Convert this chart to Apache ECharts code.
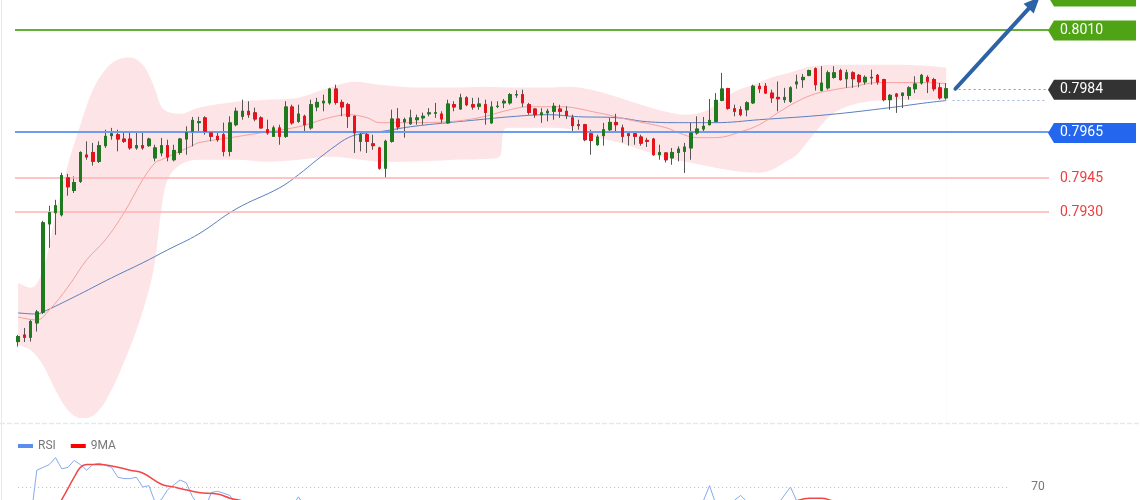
<!DOCTYPE html>
<html><head><meta charset="utf-8">
<script src="https://cdn.jsdelivr.net/npm/echarts@6/dist/echarts.min.js"></script>
<style>html,body{margin:0;padding:0;background:#fff}#c{width:1140px;height:500px}</style>
</head><body><div id="c"></div><script>
// ---- data ----
const slots = Array.from({length: 166}, (_, i) => String(i));
const opens = [0.78729,0.78758,0.78748,0.78811,0.78858,0.79246,0.79295,0.79286,0.79449,0.79393,
0.79433,0.79549,0.79560,0.79521,0.79590,0.79634,0.79638,0.79619,0.79619,0.79580,
0.79590,0.79590,0.79536,0.79558,0.79590,0.79528,0.79560,0.79619,0.79653,0.79691,
0.79712,0.79646,0.79631,0.79638,0.79565,0.79682,0.79719,0.79741,0.79734,0.79712,
0.79660,0.79631,0.79668,0.79631,0.79760,0.79697,0.79719,0.79668,0.79760,0.79778,
0.79778,0.79839,0.79780,0.79770,0.79719,0.79609,0.79638,0.79598,0.79580,0.79491,
0.79609,0.79707,0.79695,0.79686,0.79704,0.79712,0.79730,0.79733,0.79729,0.79690,
0.79770,0.79751,0.79800,0.79770,0.79763,0.79770,0.79690,0.79762,0.79778,0.79778,
0.79813,0.79814,0.79770,0.79751,0.79726,0.79734,0.79741,0.79751,0.79741,0.79712,
0.79682,0.79682,0.79642,0.79594,0.79634,0.79660,0.79692,0.79668,0.79642,0.79642,
0.79628,0.79613,0.79619,0.79550,0.79558,0.79536,0.79560,0.79565,0.79580,0.79646,
0.79663,0.79682,0.79697,0.79789,0.79841,0.79752,0.79748,0.79748,0.79778,0.79851,
0.79851,0.79821,0.79802,0.79792,0.79785,0.79861,0.79880,0.79899,0.79928,0.79832,
0.79844,0.79890,0.79920,0.79884,0.79910,0.79899,0.79870,0.79888,0.79899,0.79880,
0.79792,0.79817,0.79811,0.79811,0.79840,0.79865,0.79890,0.79880,0.79844,0.79800];
const closes = [0.78751,0.78748,0.78817,0.78859,0.79251,0.79296,0.79326,0.79459,0.79409,0.79428,
0.79560,0.79540,0.79521,0.79590,0.79631,0.79642,0.79619,0.79609,0.79580,0.79590,
0.79580,0.79619,0.79580,0.79590,0.79540,0.79569,0.79619,0.79648,0.79701,0.79695,
0.79653,0.79631,0.79616,0.79565,0.79690,0.79741,0.79741,0.79726,0.79707,0.79668,
0.79646,0.79668,0.79631,0.79760,0.79690,0.79729,0.79682,0.79770,0.79780,0.79785,
0.79839,0.79780,0.79760,0.79719,0.79646,0.79638,0.79609,0.79590,0.79491,0.79609,
0.79707,0.79672,0.79704,0.79712,0.79712,0.79719,0.79734,0.79734,0.79707,0.79773,
0.79760,0.79800,0.79770,0.79760,0.79773,0.79736,0.79760,0.79763,0.79785,0.79814,
0.79814,0.79778,0.79736,0.79726,0.79734,0.79741,0.79763,0.79741,0.79722,0.79678,
0.79678,0.79616,0.79613,0.79628,0.79660,0.79692,0.79682,0.79631,0.79634,0.79631,
0.79601,0.79609,0.79550,0.79560,0.79528,0.79560,0.79575,0.79584,0.79646,0.79663,
0.79675,0.79701,0.79789,0.79839,0.79754,0.79741,0.79726,0.79778,0.79851,0.79840,
0.79821,0.79800,0.79796,0.79802,0.79844,0.79870,0.79890,0.79920,0.79858,0.79865,
0.79910,0.79910,0.79880,0.79910,0.79884,0.79870,0.79890,0.79890,0.79870,0.79792,
0.79811,0.79807,0.79821,0.79844,0.79861,0.79899,0.79873,0.79840,0.79800,0.79840];
const lows = [0.78707,0.78727,0.78729,0.78773,0.78850,0.79141,0.79198,0.79279,0.79370,0.79382,
0.79426,0.79528,0.79502,0.79514,0.79580,0.79616,0.79565,0.79602,0.79572,0.79572,
0.79572,0.79585,0.79521,0.79543,0.79521,0.79521,0.79550,0.79550,0.79587,0.79651,
0.79638,0.79609,0.79607,0.79543,0.79543,0.79675,0.79704,0.79712,0.79697,0.79664,
0.79638,0.79629,0.79594,0.79624,0.79682,0.79690,0.79653,0.79660,0.79741,0.79741,
0.79770,0.79770,0.79719,0.79668,0.79558,0.79565,0.79558,0.79572,0.79484,0.79449,
0.79603,0.79660,0.79625,0.79682,0.79682,0.79682,0.79719,0.79712,0.79690,0.79686,
0.79741,0.79748,0.79763,0.79748,0.79748,0.79682,0.79686,0.79755,0.79755,0.79770,
0.79800,0.79760,0.79726,0.79712,0.79690,0.79697,0.79704,0.79712,0.79707,0.79653,
0.79660,0.79609,0.79550,0.79590,0.79590,0.79653,0.79653,0.79604,0.79590,0.79594,
0.79590,0.79584,0.79546,0.79528,0.79516,0.79506,0.79521,0.79470,0.79528,0.79638,
0.79653,0.79680,0.79692,0.79785,0.79748,0.79719,0.79719,0.79719,0.79773,0.79821,
0.79817,0.79778,0.79741,0.79778,0.79778,0.79840,0.79844,0.79895,0.79832,0.79829,
0.79836,0.79884,0.79876,0.79844,0.79844,0.79846,0.79858,0.79858,0.79858,0.79785,
0.79748,0.79734,0.79755,0.79792,0.79821,0.79858,0.79821,0.79829,0.79792,0.79792];
const highs = [0.78758,0.78789,0.78824,0.78868,0.79260,0.79326,0.79352,0.79471,0.79466,0.79455,
0.79565,0.79609,0.79602,0.79609,0.79660,0.79668,0.79660,0.79653,0.79646,0.79653,
0.79653,0.79625,0.79594,0.79624,0.79616,0.79594,0.79624,0.79675,0.79716,0.79717,
0.79719,0.79653,0.79647,0.79691,0.79719,0.79757,0.79792,0.79785,0.79757,0.79719,
0.79704,0.79678,0.79682,0.79785,0.79770,0.79770,0.79726,0.79792,0.79800,0.79814,
0.79844,0.79858,0.79792,0.79778,0.79722,0.79653,0.79646,0.79638,0.79585,0.79616,
0.79748,0.79755,0.79713,0.79748,0.79726,0.79735,0.79755,0.79778,0.79741,0.79792,
0.79785,0.79818,0.79807,0.79800,0.79801,0.79792,0.79785,0.79785,0.79795,0.79821,
0.79833,0.79836,0.79778,0.79755,0.79755,0.79752,0.79778,0.79770,0.79763,0.79726,
0.79704,0.79686,0.79660,0.79638,0.79690,0.79712,0.79730,0.79682,0.79653,0.79653,
0.79638,0.79624,0.79624,0.79594,0.79560,0.79580,0.79587,0.79602,0.79690,0.79719,
0.79716,0.79795,0.79821,0.79910,0.79844,0.79770,0.79763,0.79785,0.79858,0.79865,
0.79865,0.79836,0.79872,0.79844,0.79851,0.79902,0.79905,0.79924,0.79934,0.79939,
0.79920,0.79939,0.79928,0.79924,0.79917,0.79905,0.79899,0.79924,0.79905,0.79884,
0.79817,0.79821,0.79822,0.79851,0.79895,0.79905,0.79899,0.79888,0.79865,0.79865];

// Bollinger band edges and moving averages, read as [candle index, price]
const upperBand = [[0,0.78987],[2,0.78965],[4,0.79044],[6,0.79286],[8,0.79506],[10,0.79682],[12,0.79836],[14,0.79924],[16,0.79968],[18,0.79977],[20,0.79946],[21,0.79902],[22,0.79836],[23,0.79761],[24,0.79739],[26,0.79730],[29,0.79757],[35,0.79783],[40,0.79792],[45,0.79801],[50,0.79845],[54,0.79871],[58,0.79858],[65,0.79845],[70,0.79845],[75,0.79849],[80,0.79845],[85,0.79845],[88,0.79849],[92,0.79836],[96,0.79805],[100,0.79770],[104,0.79739],[107,0.79726],[110,0.79739],[112,0.79770],[115,0.79827],[118,0.79858],[121,0.79889],[124,0.79911],[127,0.79937],[131,0.79946],[136,0.79946],[141,0.79946],[145,0.79942],[149,0.79933]];
const lowerBand = [[0,0.78714],[2,0.78692],[4,0.78626],[6,0.78516],[8,0.78428],[10,0.78393],[11,0.78393],[13,0.78428],[15,0.78516],[17,0.78639],[19,0.78780],[21,0.78956],[22,0.79088],[23,0.79308],[24,0.79440],[26,0.79506],[29,0.79528],[35,0.79528],[40,0.79519],[45,0.79528],[50,0.79541],[55,0.79528],[58,0.79519],[62,0.79519],[70,0.79528],[77,0.79537],[78,0.79660],[79,0.79669],[85,0.79669],[89,0.79660],[92,0.79629],[96,0.79607],[100,0.79572],[104,0.79537],[108,0.79515],[112,0.79493],[116,0.79475],[119,0.79471],[121,0.79484],[123,0.79515],[125,0.79550],[127,0.79616],[129,0.79682],[131,0.79735],[134,0.79770],[138,0.79788],[143,0.79792],[149,0.79792]];
const redMA = [[0,0.78837],[3,0.78824],[5,0.78868],[8,0.78969],[11,0.79088],[14,0.79176],[17,0.79295],[20,0.79440],[22,0.79515],[23,0.79528],[24,0.79541],[28,0.79590],[29,0.79603],[35,0.79629],[40,0.79651],[45,0.79673],[50,0.79713],[53,0.79726],[56,0.79713],[58,0.79691],[63,0.79691],[69,0.79695],[74,0.79713],[79,0.79748],[82,0.79761],[87,0.79761],[93,0.79735],[98,0.79704],[104,0.79669],[106,0.79647],[109,0.79625],[112,0.79625],[116,0.79651],[119,0.79682],[122,0.79735],[125,0.79783],[128,0.79818],[131,0.79836],[134,0.79849],[138,0.79867],[142,0.79867],[146,0.79867],[149,0.79862]];
const blueMA = [[0,0.78855],[3,0.78850],[4,0.78859],[9,0.78925],[15,0.79009],[20,0.79075],[24,0.79132],[29,0.79202],[35,0.79312],[42,0.79405],[45,0.79462],[48,0.79528],[51,0.79590],[53,0.79625],[55,0.79642],[58,0.79651],[63,0.79673],[69,0.79691],[74,0.79704],[79,0.79717],[85,0.79726],[90,0.79717],[96,0.79713],[101,0.79695],[106,0.79691],[112,0.79691],[119,0.79704],[130,0.79726],[140,0.79757],[146,0.79779],[149,0.79788]];

// RSI panel, [candle index, value]
const rsi = [[0,45],[1,42],[2,46],[3,82],[5,86],[6,91],[7,83],[8,84],[9,89],[10,86],[11,82],[12,86],[13,87],[15,84],[16,77],[17,76],[18,76],[19,77],[20,70],[21,71],[22,59],[23,61],[24,68],[26,75],[27,73],[28,63],[29,57],[30,54],[31,66],[32,67],[34,64],[35,57],[38,52],[41,48],[44,56],[45,63],[46,56],[50,58],[54,42],[58,35],[60,50],[65,55],[70,57],[75,52],[80,56],[85,50],[90,45],[95,48],[100,40],[104,36],[107,42],[109,55],[110,60],[111,71],[112,58],[114,57],[116,64],[118,55],[120,52],[122,58],[124,70],[125,60],[128,56],[132,55],[136,57],[140,48],[144,52],[148,48],[149,50]];
const rsiMA9 = [[5,48],[7,61],[9,77],[10,84],[11,86],[13,86],[15,85],[18,82],[20,80],[23,72],[25,70],[26,69],[29,66],[32,65],[34,62],[35,61],[40,57],[45,56],[50,55],[55,50],[60,47],[70,52],[80,53],[90,48],[100,44],[106,42],[110,48],[115,55],[120,57],[124,59],[127,62],[129,62],[131,60],[135,58],[140,55],[145,52],[149,51]];
const rsiLevel = 70;

// price levels on the right
const levelValues = [0.8025, 0.8010, 0.7984, 0.7965, 0.7945, 0.7930];
const levelTexts  = ['0.8025', '0.8010', '0.7984', '0.7965', '0.7945', '0.7930'];
const lastClose = 0.7984;
const lastBlueMA = 0.79788;
const arrowEnd = ['164', 0.80243];

// ---- chart ----
const GREEN = '#4ea414', GREEN_LINE = '#63b134', BLUE = '#2467ee', BLUE_LINE = '#6d9bf0', DARK = '#333333', RED_TXT = '#f03c3c', RED_LINE = '#ffb2b2';
const chart = echarts.init(document.getElementById('c'), null, {renderer: 'canvas'});
const ohlc = opens.map((o, i) => [o, closes[i], lows[i], highs[i]]);
const bodies = opens.map((o, i) => [o, closes[i], Math.min(o, closes[i]), Math.max(o, closes[i])]);

chart.setOption({
  animation: false,
  backgroundColor: '#ffffff',
  legend: {
    data: ['RSI', '9MA'], left: 13, top: 435, icon: 'rect', itemWidth: 15, itemHeight: 4, itemGap: 15,
    textStyle: {color: '#777', fontSize: 12, fontFamily: 'Roboto'}, selectedMode: false
  },
  grid: [
    {left: 15, width: 1034, top: 0, height: 421},
    {left: 15, width: 1034, top: 445, height: 55}
  ],
  xAxis: [
    {type: 'category', data: slots, gridIndex: 0, show: false, boundaryGap: true},
    {type: 'category', data: slots, gridIndex: 1, show: false, boundaryGap: true}
  ],
  yAxis: [
    {type: 'value', gridIndex: 0, min: 0.7838, max: 0.8023, show: false, splitLine: {show: false}},
    {type: 'value', gridIndex: 1, min: 60.714, max: 100, show: false, splitLine: {show: false}}
  ],
  series: [
    {name: 'BBU', type: 'line', data: upperBand, smooth: 0.35, symbol: 'none', silent: true, z: 1,
     lineStyle: {width: 0, opacity: 0}, areaStyle: {color: '#fde4e6', opacity: 1, origin: 'start'}},
    {name: 'BBL', type: 'line', data: lowerBand, smooth: 0.35, symbol: 'none', silent: true, z: 2,
     lineStyle: {width: 0, opacity: 0}, areaStyle: {color: '#ffffff', opacity: 1, origin: 'start'}},
    {name: 'MA slow', type: 'line', data: blueMA, smooth: 0.4, symbol: 'none', silent: true, z: 3,
     lineStyle: {color: '#5a7fc0', width: 1}},
    {name: 'MA fast', type: 'line', data: redMA, smooth: 0.4, symbol: 'none', silent: true, z: 3,
     lineStyle: {color: '#f5a0a0', width: 1},
     markLine: {
       silent: true, symbol: ['none', 'none'], label: {show: false}, animation: false, precision: 5,
       data: [
         {yAxis: levelValues[1], lineStyle: {color: GREEN_LINE, width: 2, type: 'solid'}},
         {yAxis: levelValues[3], lineStyle: {color: BLUE_LINE, width: 2, type: 'solid'}},
         {yAxis: levelValues[4], lineStyle: {color: RED_LINE, width: 1.5, type: 'solid'}},
         {yAxis: levelValues[5], lineStyle: {color: RED_LINE, width: 1.5, type: 'solid'}},
         [{coord: ['151', lastClose], lineStyle: {color: '#9a9a9a', width: 1, type: [2, 3]}}, {coord: ['165', lastClose]}],
         [{coord: ['150', lastBlueMA], lineStyle: {color: '#9fb4e0', width: 1, type: [2, 3]}}, {coord: ['165', lastBlueMA]}]
       ]
     }},
    {name: 'wicks', type: 'candlestick', data: ohlc, barWidth: 3, z: 4, silent: true,
     itemStyle: {color: '#555', color0: '#555', borderColor: '#555', borderColor0: '#555', borderWidth: 1}},
    {name: 'bodies', type: 'candlestick', data: bodies, barWidth: 3, z: 5, silent: true,
     itemStyle: {color: '#1f7a1f', color0: '#e8121a', borderColor: '#1f7a1f', borderColor0: '#e8121a', borderWidth: 1}},
    {name: 'RSI', type: 'line', xAxisIndex: 1, yAxisIndex: 1, data: rsi, symbol: 'none', z: 3,
     color: '#5b8def', lineStyle: {color: '#86a9ef', width: 1},
     markLine: {silent: true, symbol: ['none', 'none'], label: {show: false}, precision: 2,
       data: [[{coord: ['0', rsiLevel], lineStyle: {color: '#bbb', width: 1, type: [1, 3]}}, {coord: ['159', rsiLevel]}]]}},
    {name: '9MA', type: 'line', xAxisIndex: 1, yAxisIndex: 1, data: rsiMA9, smooth: 0.4, symbol: 'none', z: 3,
     color: '#ff0000', lineStyle: {color: '#f04848', width: 1.5}}
  ]
});

// ---- annotations positioned via the axes ----
function px(idx, v, g) { return chart.convertToPixel({gridIndex: g || 0}, [idx, v]); }
const half = (px('1', 0.79)[0] - px('0', 0.79)[0]) / 2;
const tipX = px('165', 0.79)[0] + half - 1;
const graphics = [
  {type: 'line', shape: {x1: 1.5, y1: 0, x2: 1.5, y2: 500}, style: {stroke: '#e4e9ee', lineWidth: 1}, silent: true},
  {type: 'line', shape: {x1: 0, y1: 423.5, x2: 1140, y2: 423.5}, style: {stroke: '#e4e9ee', lineWidth: 1.5, lineDash: [5, 2]}, silent: true}
];
const boxColors = [GREEN, GREEN, DARK, BLUE, null, null];
levelValues.forEach((v, k) => {
  const y = px('165', v)[1] + 1;
  if (boxColors[k]) {
    graphics.push({type: 'polygon', silent: true, z: 10,
      shape: {points: [[tipX, y], [tipX + 6, y - 10], [tipX + 88, y - 10], [tipX + 88, y + 10], [tipX + 6, y + 10]]},
      style: {fill: boxColors[k]}});
    graphics.push({type: 'text', silent: true, z: 11, x: tipX + 12, y: y,
      style: {text: levelTexts[k], fill: '#ffffff', fontSize: 14, fontFamily: 'Roboto', verticalAlign: 'middle'}});
  } else {
    graphics.push({type: 'text', silent: true, z: 11, x: tipX + 12, y: y,
      style: {text: levelTexts[k], fill: RED_TXT, fontSize: 14, fontFamily: 'Roboto', verticalAlign: 'middle'}});
  }
});
// RSI 70 label
const y70 = px('0', rsiLevel, 1)[1];
graphics.push({type: 'text', silent: true, x: px('158', rsiLevel, 1)[0] + 29, y: y70,
  style: {text: String(rsiLevel), fill: '#777', fontSize: 12, fontFamily: 'Roboto', verticalAlign: 'middle'}});
// forecast arrow
const a0 = px('150', lastClose), a1 = px(arrowEnd[0], arrowEnd[1]);
const dx = a1[0] - a0[0], dy = a1[1] - a0[1], len = Math.hypot(dx, dy);
const ux = dx / len, uy = dy / len, head = 16, hw = 7;
const bx = a1[0] - ux * head, by = a1[1] - uy * head;
graphics.push({type: 'line', silent: true, z: 12, shape: {x1: a0[0] + 3, y1: a0[1], x2: bx + ux * 2, y2: by + uy * 2},
  style: {stroke: '#2d62a6', lineWidth: 4, lineCap: 'round'}});
graphics.push({type: 'polygon', silent: true, z: 12,
  shape: {points: [[a1[0], a1[1]], [bx - uy * hw, by + ux * hw], [bx + uy * hw, by - ux * hw]]},
  style: {fill: '#2d62a6'}});
chart.setOption({graphic: graphics});
</script></body></html>
